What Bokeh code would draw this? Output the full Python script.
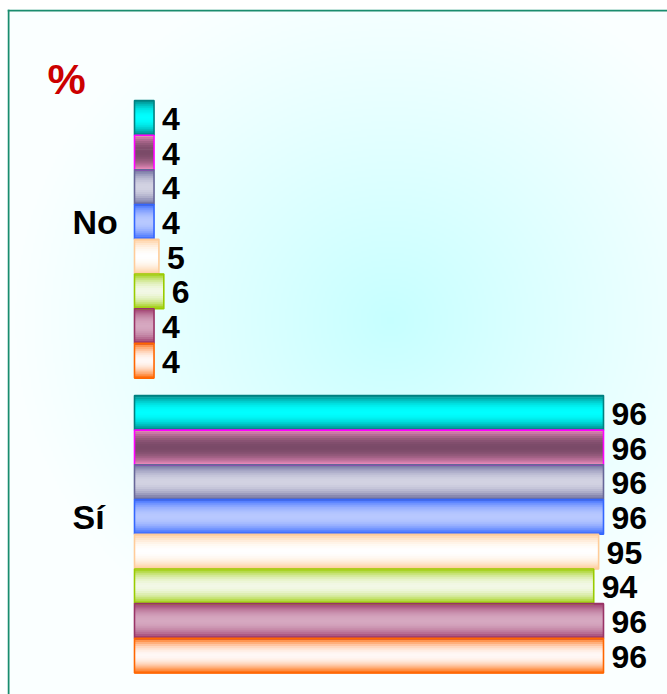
import numpy as np
from bokeh.plotting import figure
from bokeh.models import ColumnDataSource, Range1d, Span
from bokeh.core.properties import value
from bokeh.embed import file_html
from bokeh.resources import INLINE

# ---------------- data ----------------
categories = ["No", "Sí"]
no_values = [4, 4, 4, 4, 5, 6, 4, 4]
si_values = [96, 96, 96, 96, 95, 94, 96, 96]
unit_label = "%"

# ---------------- styles ----------------
edge_colors = ["#008080", "#f090c0", "#666699", "#3366ff", "#ffcc99", "#99cc00", "#993366", "#ff6600"]
center_colors = ["#00ffff", "#7a4a68", "#d2d2e2", "#b8c8ff", "#ffffff", "#f2f8e6", "#d6a8c0", "#fff8f6"]
border_colors = ["#008080", "#ff00ff", "#666699", "#3366ff", "#ffcc99", "#99cc00", "#993366", "#ff6600"]

FONT = "Liberation Sans"
W, H = 667, 694
LEFT_PAD, TOP_PAD = 7, 9
FW, FH = W - LEFT_PAD, H - TOP_PAD
PX_PER_UNIT = 469 / 96.0
X0_PX = 134.0 - LEFT_PAD  # px from frame left to value 0
x_start = -X0_PX / PX_PER_UNIT
x_end = (FW - X0_PX) / PX_PER_UNIT

PITCH = 34.7
FIRST_TOP = 100.0 - TOP_PAD  # px below frame top
u_top = -FIRST_TOP / PITCH
u_bottom = (FH - FIRST_TOP) / PITCH
GROUP_STEP = 8.5


def hex2rgb(h):
    h = h.lstrip("#")
    return np.array([int(h[i:i + 2], 16) for i in (0, 2, 4)], dtype=float)


def rgb2hex(c):
    c = np.clip(np.round(c), 0, 255).astype(int)
    return "#%02x%02x%02x" % tuple(c)


p = figure(width=W, height=H, output_backend="svg", toolbar_location=None,
           x_range=Range1d(x_start, x_end), y_range=Range1d(u_bottom, u_top),
           x_axis_location=None, y_axis_location=None,
           min_border=0, min_border_left=LEFT_PAD, min_border_top=TOP_PAD)
p.grid.visible = False
p.outline_line_color = None
p.background_fill_color = "#f8ffff"
p.border_fill_color = "white"

# ---------------- background glow ----------------
Hr, Wr = FH // 2, FW // 2
rows = TOP_PAD + (np.arange(Hr) + 0.5) * FH / Hr
cols = LEFT_PAD + (np.arange(Wr) + 0.5) * FW / Wr
PX, PY = np.meshgrid(cols, rows)
cx, cy, rx, ry = 390.0, 320.0, 380.0, 360.0
r = np.sqrt(((PX - cx) / rx) ** 2 + ((PY - cy) / ry) ** 2)
g = np.clip(1 - r, 0, 1) ** 1.1
edge_bg = np.array([250, 255, 255.0])
core_bg = np.array([198, 255, 255.0])
img = np.empty((Hr, Wr), dtype=np.uint32)
view = img.view(dtype=np.uint8).reshape((Hr, Wr, 4))
for k in range(3):
    view[:, :, k] = np.round(edge_bg[k] + (core_bg[k] - edge_bg[k]) * g).astype(np.uint8)
view[:, :, 3] = 255
p.image_rgba(image=[img], x=x_start, y=u_top, dw=x_end - x_start, dh=u_bottom - u_top)

# ---------------- bars with cylindrical shading ----------------
N = 17
sy, sv, sc = [], [], []
oy, ov, oc = [], [], []
ly, lv, lt = [], [], []
groups = [no_values, si_values]
for gi, vals in enumerate(groups):
    for i, v in enumerate(vals):
        top = gi * GROUP_STEP + i
        e = hex2rgb(edge_colors[i])
        c = hex2rgb(center_colors[i])
        for j in range(N):
            s = (j + 0.5) / N
            t = 1 - abs(2 * s - 1)
            f = 1 - (1 - t) ** 2
            sy.append(top + s)
            sv.append(v)
            sc.append(rgb2hex(e + (c - e) * f))
        oy.append(top + 0.5)
        ov.append(v)
        oc.append(border_colors[i])
        ly.append(top + 0.5)
        lv.append(v)
        lt.append(str(v))

strips = ColumnDataSource(dict(y=sy, right=sv, color=sc))
p.hbar(y="y", right="right", left=0, height=1.35 / N, source=strips,
       fill_color="color", line_color=None)

outl = ColumnDataSource(dict(y=oy, right=ov, color=oc))
p.hbar(y="y", right="right", left=0, height=1.0, source=outl,
       fill_color=None, line_color="color", line_width=1.6)

labels = ColumnDataSource(dict(y=ly, x=lv, text=lt))
p.text(x="x", y="y", text="text", source=labels, x_offset=8, y_offset=1,
       text_font=value(FONT), text_font_style="bold", text_font_size="32px",
       text_color="black", text_align="left", text_baseline="middle")

# category labels
cat_src = ColumnDataSource(dict(y=[gi * GROUP_STEP + 4 for gi in range(len(categories))],
                                x=[0] * len(categories), text=categories))
p.text(x="x", y="y", text="text", source=cat_src, x_offset=-62, y_offset=-17,
       text_font=value(FONT), text_font_style="bold", text_font_size="34px",
       text_color="black", text_align="left", text_baseline="middle")

# unit label
p.text(x=[0], y=[-(100.0 - 78) / PITCH], text=[unit_label], x_offset=-87,
       text_font=value(FONT), text_font_style="bold", text_font_size="43px",
       text_color="#cc0000", text_align="left", text_baseline="middle")

# frame border (left and top), drawn fully inside the frame edge
p.add_layout(Span(location=x_start + 1.0 / PX_PER_UNIT, dimension="height",
                  line_color="#1a8c6e", line_width=2))
p.add_layout(Span(location=u_top + 1.0 / PITCH, dimension="width",
                  line_color="#1a8c6e", line_width=2))

open("out.html", "w").write(file_html(p, INLINE))
